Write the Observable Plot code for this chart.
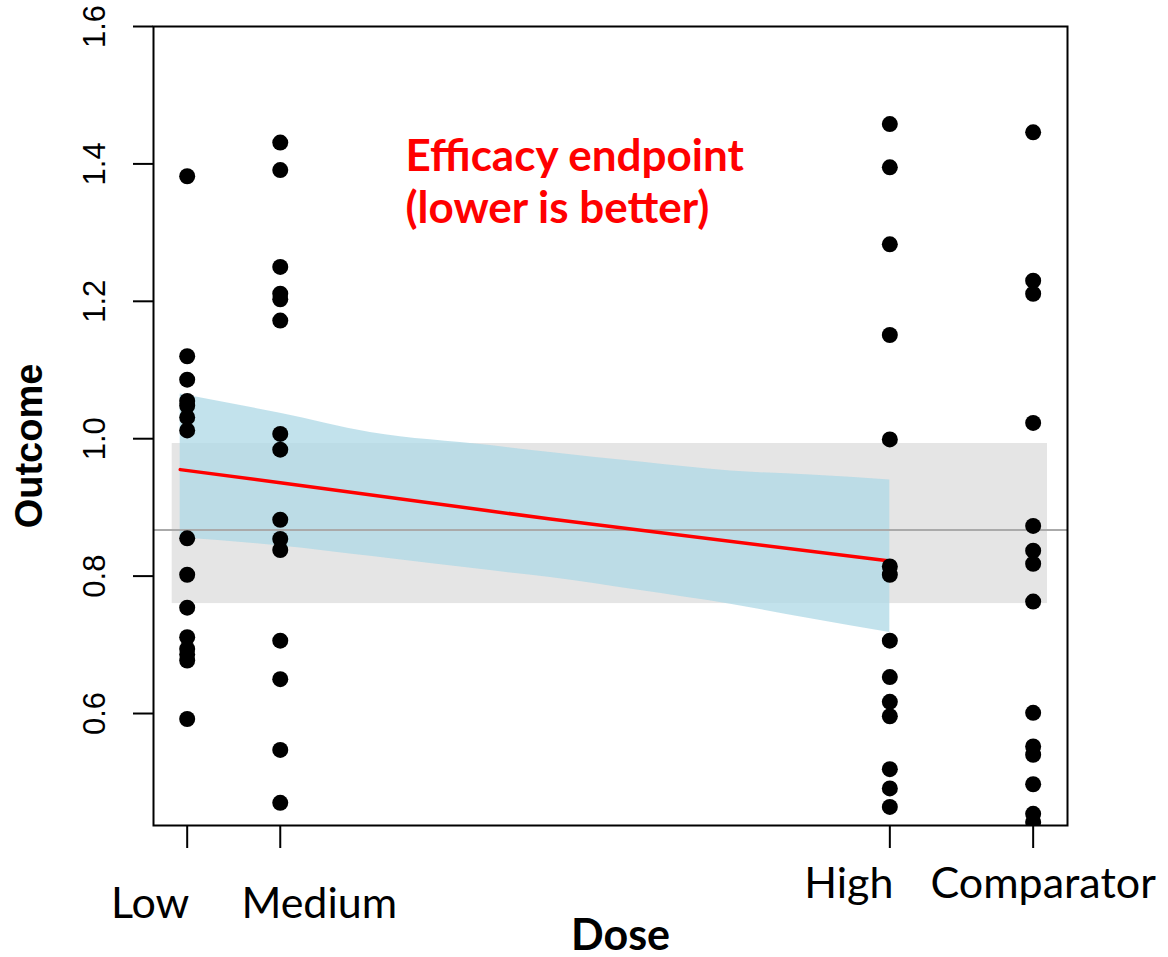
<!DOCTYPE html>
<html>
<head>
<meta charset="utf-8">
<script src="https://cdn.jsdelivr.net/npm/d3@7"></script>
<script src="https://cdn.jsdelivr.net/npm/@observablehq/plot@0.6"></script>
<style>
  html, body { margin: 0; padding: 0; background: #fff; }
  svg { display: block; }
</style>
</head>
<body>
<div id="chart"></div>
<script>
// ---- data ----
const categories = ["Low", "Medium", "High", "Comparator"];
const doses = [1, 2, 8.55, 10.09];

const lowValues = [1.382, 1.120, 1.086, 1.055, 1.048, 1.031, 1.012, 0.855, 0.802, 0.754, 0.711, 0.694, 0.686, 0.677, 0.592];
const mediumValues = [1.431, 1.391, 1.250, 1.211, 1.203, 1.172, 1.007, 0.984, 0.882, 0.854, 0.838, 0.706, 0.650, 0.547, 0.470];
const highValues = [1.458, 1.395, 1.283, 1.151, 0.999, 0.814, 0.802, 0.706, 0.653, 0.617, 0.596, 0.519, 0.491, 0.464];
const comparatorValues = [1.446, 1.230, 1.211, 1.023, 0.873, 0.837, 0.818, 0.763, 0.601, 0.552, 0.540, 0.497, 0.454, 0.442];

// fitted dose-response (red line) and its confidence band (light blue)
const fitDose = [0.925, 2.0, 4.903, 8.55];
const fitValue = [0.955, 0.936, 0.883, 0.822];
const bandDose = [0.925, 2.0, 2.968, 4.258, 4.903, 5.871, 6.839, 7.699, 8.55];
const bandUpper = [1.065, 1.037, 1.009, 0.990, 0.980, 0.966, 0.953, 0.947, 0.940];
const bandLower = [0.856, 0.844, 0.829, 0.808, 0.798, 0.779, 0.759, 0.738, 0.718];

// comparator reference: mean line and grey range
const refMean = 0.867;
const refLow = 0.760;
const refHigh = 0.993;
const refDoseRange = [0.839, 10.244];

const yTicks = [0.6, 0.8, 1.0, 1.2, 1.4, 1.6];
const annotation = "Efficacy endpoint\n(lower is better)";

// ---- tables built from the arrays ----
const valueSets = [lowValues, mediumValues, highValues, comparatorValues];
const points = valueSets.flatMap((vals, i) => vals.map(v => ({dose: doses[i], value: v})));
const band = bandDose.map((d, i) => ({dose: d, lo: bandLower[i], hi: bandUpper[i]}));
const fit = fitDose.map((d, i) => ({dose: d, value: fitValue[i]}));
const labelDx = [-37, 39, -41, 10];
const labelDy = [92, 92, 72, 72];
const labels = categories.map((c, i) => ({name: c, dose: doses[i], dx: labelDx[i], dy: labelDy[i]}));

const calibriLike = "Lato, 'Open Sans', sans-serif";
const arialLike = "'Liberation Sans', Arial, sans-serif";

const chart = Plot.plot({
  width: 1168,
  height: 957,
  marginLeft: 153,
  marginRight: 101,
  marginTop: 26,
  marginBottom: 132,
  x: {type: "linear", domain: [0.638, 10.459], axis: null},
  y: {type: "linear", domain: [0.437, 1.6], axis: null},
  marks: [
    Plot.rect([{x1: refDoseRange[0], x2: refDoseRange[1], y1: refLow, y2: refHigh}],
      {x1: "x1", x2: "x2", y1: "y1", y2: "y2", fill: "#e5e5e5"}),
    Plot.areaY(band, {x: "dose", y1: "lo", y2: "hi", fill: "#add8e6", fillOpacity: 0.75, curve: "monotone-x"}),
    Plot.ruleY([refMean], {stroke: "#aaaaaa", strokeWidth: 2}),
    Plot.line(fit, {x: "dose", y: "value", stroke: "#ff0000", strokeWidth: 3.5}),
    Plot.dot(points, {x: "dose", y: "value", r: 8, fill: "black", stroke: null, clip: "frame"}),
    Plot.frame({stroke: "black", strokeWidth: 2}),
    Plot.axisX({ticks: doses, tickSize: 23, tickFormat: () => "", stroke: "black", strokeWidth: 2, label: null}),
    Plot.axisY({ticks: yTicks, tickSize: 20, tickFormat: () => "", stroke: "black", strokeWidth: 2, label: null}),
    Plot.text(yTicks, {y: d => d, frameAnchor: "left", text: d => d3.format(".1f")(d), rotate: -90,
      dx: -58, fontSize: 31, fontFamily: arialLike, fill: "black", textAnchor: "middle"}),
    ...labels.map(l => Plot.text([l], {x: "dose", frameAnchor: "bottom", text: "name", dx: l.dx, dy: l.dy,
      fontSize: 43, fontFamily: calibriLike, fill: "black", textAnchor: "middle"})),
    Plot.text(["Dose"], {frameAnchor: "bottom", text: d => d, dx: 10, dy: 124, fontSize: 43,
      fontWeight: "bold", fontFamily: calibriLike, fill: "black", textAnchor: "middle"}),
    Plot.text(["Outcome"], {frameAnchor: "left", text: d => d, rotate: -90, dx: -124, dy: 20,
      fontSize: 38, fontWeight: "bold", fontFamily: arialLike, fill: "black", textAnchor: "middle"}),
    Plot.text([annotation], {frameAnchor: "top-left", text: d => d, dx: 252, dy: 107, lineAnchor: "top",
      textAnchor: "start", lineHeight: 1.19, fontSize: 44, fontWeight: "bold", fontFamily: calibriLike, fill: "#ff0000"})
  ]
});
document.getElementById("chart").appendChild(chart);
</script>
</body>
</html>
